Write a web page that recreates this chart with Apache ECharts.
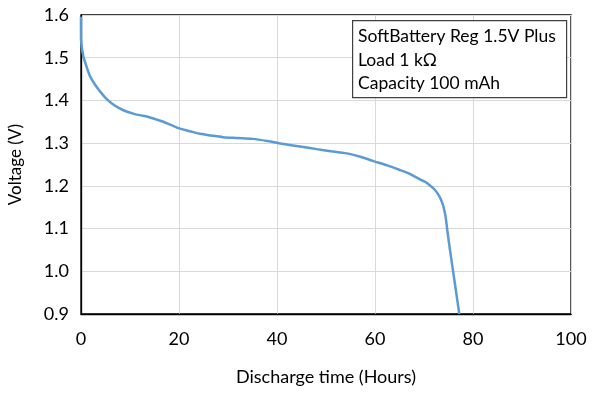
<!DOCTYPE html>
<html>
<head>
<meta charset="utf-8">
<script src="https://cdn.jsdelivr.net/npm/echarts@6/dist/echarts.min.js"></script>
<style>
html,body{margin:0;padding:0;background:#fff;}
#c{width:592px;height:396px;}
</style>
</head>
<body>
<div id="c"></div>
<script>
var hours = [0, 0, 0.2, 0.5, 1, 1.8, 2.8, 3.9, 5, 6.3, 7.8, 9.3, 11, 12.7, 14.1, 15.5, 16.8, 18.5, 20.2, 22.2, 24.3, 26.5, 29, 32, 35, 38, 41.3, 44.7, 48.1, 51, 54.2, 57, 59.7, 62.5, 65.1, 67.3, 69.2, 70.3, 71.2, 72.1, 72.9, 73.5, 74.0, 74.4, 74.8, 75.3, 76.0, 76.6, 77.2];
var voltage = [1.596, 1.545, 1.522, 1.502, 1.484, 1.458, 1.438, 1.421, 1.406, 1.393, 1.382, 1.374, 1.368, 1.364, 1.360, 1.355, 1.350, 1.342, 1.334, 1.328, 1.322, 1.318, 1.314, 1.312, 1.310, 1.305, 1.298, 1.292, 1.286, 1.281, 1.276, 1.268, 1.258, 1.248, 1.237, 1.227, 1.215, 1.209, 1.201, 1.192, 1.180, 1.167, 1.150, 1.128, 1.092, 1.050, 0.995, 0.948, 0.900];
var xTicks = [0, 20, 40, 60, 80, 100];
var yTicks = [0.9, 1.0, 1.1, 1.2, 1.3, 1.4, 1.5, 1.6];
var xTitle = 'Discharge time (Hours)';
var yTitle = 'Voltage (V)';
var noteLines = ['SoftBattery Reg 1.5V Plus', 'Load 1 k\u03A9', 'Capacity 100 mAh'];

var font = 'Lato, "Open Sans", sans-serif';
var pts = hours.map(function (h, i) { return [h, voltage[i]]; });
var chart = echarts.init(document.getElementById('c'), null, {renderer: 'canvas'});
chart.setOption({
  animation: false,
  backgroundColor: '#fff',
  grid: {left: 81, right: 21, top: 15, bottom: 82, show: true, borderColor: '#000', borderWidth: 1.3,
         containLabel: false, outerBoundsMode: 'none'},
  xAxis: {
    type: 'value', min: xTicks[0], max: xTicks[xTicks.length - 1], interval: 20,
    name: xTitle, nameLocation: 'middle', nameGap: 54,
    nameTextStyle: {fontFamily: font, fontSize: 18, color: '#000'},
    axisLine: {show: true, lineStyle: {color: '#000', width: 1.3}},
    axisTick: {show: false},
    axisLabel: {fontFamily: font, fontSize: 18, color: '#000', margin: 16},
    splitLine: {show: true, lineStyle: {color: '#d9d9d9', width: 1}}
  },
  yAxis: {
    type: 'value', min: yTicks[0], max: yTicks[yTicks.length - 1], interval: 0.1,
    name: yTitle, nameLocation: 'middle', nameGap: 57, nameRotate: 90,
    nameTextStyle: {fontFamily: font, fontSize: 17, color: '#000'},
    axisLine: {show: true, lineStyle: {color: '#000', width: 1.3}},
    axisTick: {show: false},
    axisLabel: {fontFamily: font, fontSize: 18, color: '#000', margin: 12,
      formatter: function (v) { return v.toFixed(1); }},
    splitLine: {show: true, lineStyle: {color: '#d9d9d9', width: 1}}
  },
  series: [{
    type: 'line', data: pts, showSymbol: false, smooth: 0.3,
    lineStyle: {color: '#5b9bd5', width: 2.5}
  }],
  graphic: [
    {type: 'rect', left: 352, top: 20, shape: {width: 214, height: 77},
     style: {fill: '#fff', stroke: '#404040', lineWidth: 1.2}, z: 100},
    {type: 'text', left: 358, top: 25, z: 101,
     style: {text: noteLines.join('\n'), fontFamily: font, fontSize: 17.5, lineHeight: 23.5, fill: '#000'}}
  ]
});
</script>
</body>
</html>
